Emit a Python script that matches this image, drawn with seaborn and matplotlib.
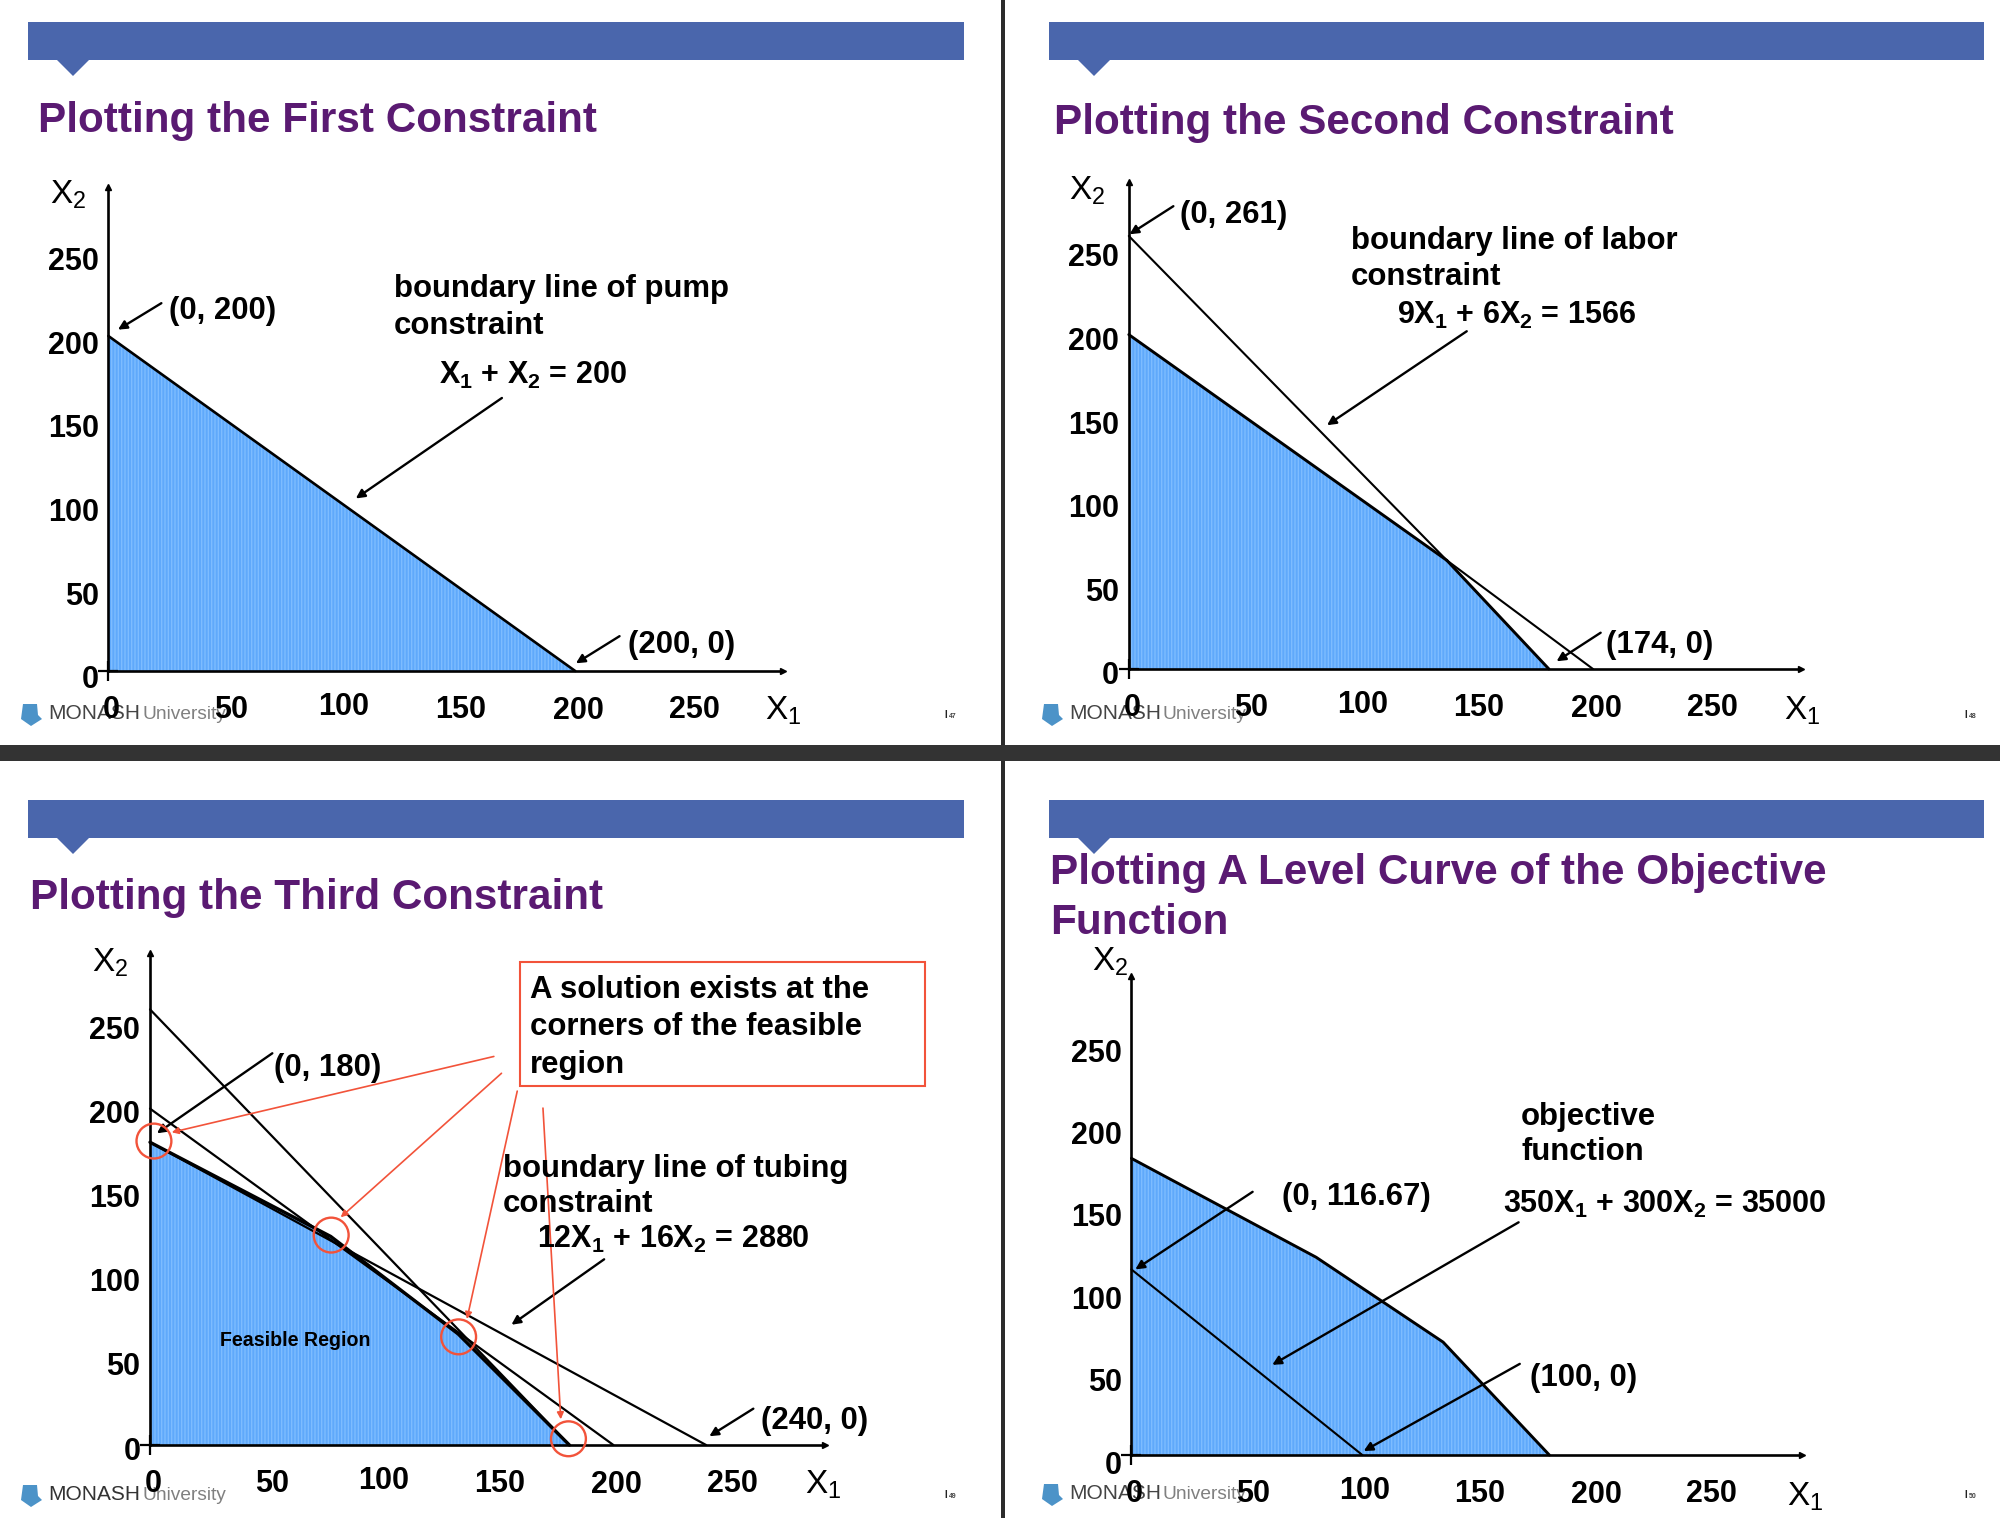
import matplotlib
matplotlib.use("Agg")
import matplotlib.pyplot as plt
import matplotlib.transforms as mtrans
from matplotlib.patches import Polygon, Rectangle
import seaborn as sns

sns.set_theme(style="white")
plt.rcParams["font.family"] = ["Liberation Sans", "DejaVu Sans"]
plt.rcParams["mathtext.fontset"] = "custom"
plt.rcParams["mathtext.rm"] = "Liberation Sans"
plt.rcParams["mathtext.bf"] = "Liberation Sans:bold"
plt.rcParams["mathtext.it"] = "Liberation Sans:italic"
plt.rcParams["hatch.linewidth"] = 1.0

W, H = 2000, 1518
BLUE_BAR, PURPLE, FILL, FILL_HATCH, RED = "#4A66AC", "#5A1A72", "#5FA9FB", "#7DBCFF", "#F2533A"
BODY = 22.4
FORMULA = 22
TICK_SIZE = 22
TITLE = 30.4

TICKS = [0, 50, 100, 150, 200, 250]
TICK_LABELS = ["0", "50", "100", "150", "200", "250"]

# boundary lines (x1, x2)
P1_PUMP_X = [0, 200];            P1_PUMP_Y = [200, 0]
P2_PUMP_X = [0, 137, 200];       P2_PUMP_Y = [200, 65, 0]
P2_LABOR_X = [0, 137, 181];      P2_LABOR_Y = [259, 65, 0]
P3_PUMP_X = [0, 200];            P3_PUMP_Y = [200, 0]
P3_LABOR_X = [0, 181];           P3_LABOR_Y = [259, 0]
P3_TUBING_X = [0, 240];          P3_TUBING_Y = [180, 0]
P4_LEVEL_X = [0, 100];           P4_LEVEL_Y = [112.6, 0]

# feasible regions
P1_REGION_X = [0, 0, 200];                P1_REGION_Y = [0, 200, 0]
P2_REGION_X = [0, 0, 137, 181];           P2_REGION_Y = [0, 200, 65, 0]
P3_REGION_X = [0, 0, 78, 133, 181];       P3_REGION_Y = [0, 180, 124, 66, 0]
P4_REGION_X = [0, 0, 80, 135, 181];       P4_REGION_Y = [0, 180, 120, 68.5, 0]

# corner circles on the third slide
CORNER_X = [1.7, 78.2, 133.2, 180.6]
CORNER_Y = [180.7, 124.8, 64.3, 3.7]

# annotation arrows: tail x, tail y, head x, head y
P1_ARROWS = [(22.7, 219.6, 4.1, 203.8), (168.6, 163, 106, 103), (219, 20.8, 200.3, 4.6)]
P2_ARROWS = [(19.2, 276.8, 0.3, 260), (145.6, 202, 85.4, 145.8), (203.3, 21.7, 184.3, 4.6)]
P3_ARROWS = [(52.8, 232.9, 3, 185.3), (196, 110.4, 156, 71.5), (260.4, 21.6, 241.4, 5.2)]
P3_RED_ARROWS = [(148.4, 231, 9.4, 185.9), (151.7, 221, 82.3, 135.4),
                 (158.5, 210.4, 136.8, 74.9), (169.6, 200.3, 177.3, 15.3)]
P4_ARROWS = [(52.5, 159.7, 1.7, 112.6), (167.7, 141.2, 61, 54.7), (168.2, 55.3, 100.6, 2.4)]

fig = plt.figure(figsize=(W / 100, H / 100), dpi=100, facecolor="white")


def fx(x):
    return x / W


def fy(y):
    return 1 - y / H


def put(x, y, s, size=BODY, weight="bold", color="black", z=3):
    fig.text(fx(x), fy(y), s, fontsize=size, fontweight=weight, color=color, zorder=z)


def chrome(x0, x1, ytop, tab0, title_lines, page, page_y, brand_y=None, brand_col="#444444"):
    ybot = ytop + 38
    fig.add_artist(Rectangle((fx(x0), fy(ybot)), (x1 - x0) / W, 38 / H,
                             transform=fig.transFigure, fc=BLUE_BAR, ec="none", zorder=-2))
    fig.add_artist(Polygon([(fx(tab0), fy(ybot)), (fx(tab0 + 32), fy(ybot)), (fx(tab0 + 16), fy(ybot + 16))],
                           closed=True, transform=fig.transFigure, fc=BLUE_BAR, ec="none", zorder=-2))
    for (tx, ty, s) in title_lines:
        put(tx, ty, s, size=TITLE, color=PURPLE)
    put(x1 - 20, page_y, "I", size=7, color="#222222")
    put(x1 - 15, page_y, page, size=5, color="#444444")
    lx = x0 - 5
    ly = brand_y
    fig.add_artist(Polygon([(fx(lx), fy(ly - 15)), (fx(lx + 14), fy(ly - 15)), (fx(lx + 15), fy(ly - 4)),
                            (fx(lx + 19), fy(ly)), (fx(lx + 8), fy(ly + 7)), (fx(lx - 2), fy(ly))],
                           closed=True, transform=fig.transFigure, fc="#4C93C8", ec="none", zorder=-1))
    put(x0 + 20, ly, "MONASH", size=15, weight="normal", color=brand_col, z=-1)
    put(x0 + 114, ly, "University", size=13.8, weight="normal", color="#808080", z=-1)


def panel(ox, oy, ux, uy, xmax, ymax, ylab_dy):
    ax = fig.add_axes([fx(ox), fy(oy), xmax * ux / W, ymax * uy / H], facecolor="none")
    ax.set_xlim(0, xmax)
    ax.set_ylim(0, ymax)
    sns.despine(ax=ax)
    for side in ("left", "bottom"):
        ax.spines[side].set_linewidth(1.9)
        ax.spines[side].set_color("black")
    ax.set_xticks(TICKS, TICK_LABELS)
    ax.set_yticks(TICKS, TICK_LABELS)
    ax.tick_params(axis="x", length=0, pad=17, labelsize=TICK_SIZE)
    ax.tick_params(axis="y", length=0, pad=7, labelsize=TICK_SIZE)
    for lab in ax.get_xticklabels() + ax.get_yticklabels():
        lab.set_fontweight("bold")
        lab.set_color("black")
    x_dx = [3, 6, 2, 2, 3, 3]
    x_dy = [0, 0, 3, 0, -1, 0]
    for lab, dx, dy in zip(ax.get_xticklabels(), x_dx, x_dy):
        lab.set_transform(lab.get_transform() + mtrans.ScaledTranslation(dx / 100, dy / 100, fig.dpi_scale_trans))
    for lab in ax.get_yticklabels():
        lab.set_transform(lab.get_transform() + mtrans.ScaledTranslation(0, -ylab_dy / 100, fig.dpi_scale_trans))
    ax.plot(1, 0, marker=">", color="black", ms=5, transform=ax.transAxes, clip_on=False)
    ax.plot(0, 1, marker="^", color="black", ms=5, transform=ax.transAxes, clip_on=False)
    ax.plot(0, 0, marker="+", color="black", ms=14, mew=1.6, clip_on=False)
    return ax


def region(ax, xs, ys):
    ax.fill(xs, ys, facecolor=FILL, edgecolor=FILL_HATCH, hatch="|||||", linewidth=0, zorder=1)


def line(ax, xs, ys, lw=1.6):
    sns.lineplot(x=xs, y=ys, ax=ax, color="black", linewidth=lw, sort=False, estimator=None,
                 legend=False, zorder=3, clip_on=False)


def arrows(ax, items, color="black", lw=1.7, ms=13):
    for (tx, ty, hx, hy) in items:
        ax.annotate("", xy=(hx, hy), xytext=(tx, ty), zorder=5,
                    arrowprops=dict(arrowstyle="-|>", color=color, lw=lw, mutation_scale=ms,
                                    shrinkA=0, shrinkB=0))


fig.add_artist(Rectangle((fx(1001), fy(1518)), 4 / W, 1, transform=fig.transFigure,
                         fc="#2b2b2b", ec="none", zorder=-3))
fig.add_artist(Rectangle((0, fy(761)), 1, 16 / H, transform=fig.transFigure,
                         fc="#333333", ec="none", zorder=-3))

# ---- slide 1
chrome(28, 964, 22, 57, [(38, 132, "Plotting the First Constraint")], "47", 718, brand_y=719)
ax = panel(108.4, 671, 2.334, 1.675, 289, 289, 6)
region(ax, P1_REGION_X, P1_REGION_Y)
line(ax, P1_PUMP_X, P1_PUMP_Y, 1.9)
arrows(ax, P1_ARROWS)
put(169, 319, "(0, 200)")
put(394, 297.5, "boundary line of pump")
put(394, 333.5, "constraint")
put(439, 383.5, r"$\mathbf{X_1}$ + $\mathbf{X_2}$ = 200", size=FORMULA)
put(628, 652.5, "(200, 0)")
put(50, 203.6, r"$\mathrm{X_2}$", size=24, weight="normal")
put(765, 720, r"$\mathrm{X_1}$", size=24, weight="normal")

# ---- slide 2
chrome(1049, 1984, 22, 1078, [(1054.5, 134, "Plotting the Second Constraint")], "48", 718, brand_y=719)
ax = panel(1128.8, 669, 2.321, 1.672, 289.5, 291, 4)
region(ax, P2_REGION_X, P2_REGION_Y)
line(ax, P2_PUMP_X[:2], P2_PUMP_Y[:2], 2.1)
line(ax, P2_PUMP_X[1:], P2_PUMP_Y[1:], 1.5)
line(ax, P2_LABOR_X[:2], P2_LABOR_Y[:2], 1.5)
line(ax, P2_LABOR_X[1:], P2_LABOR_Y[1:], 2.1)
arrows(ax, P2_ARROWS)
put(1180, 223, "(0, 261)")
put(1351, 248.5, "boundary line of labor")
put(1351, 285, "constraint")
put(1397, 323.5, r"$\mathbf{9X_1}$ + $\mathbf{6X_2}$ = 1566", size=FORMULA)
put(1606, 652.5, "(174, 0)")
put(1069, 200, r"$\mathrm{X_2}$", size=24, weight="normal")
put(1784, 720, r"$\mathrm{X_1}$", size=24, weight="normal")

# ---- slide 3
chrome(28, 964, 800, 57, [(29.6, 909, "Plotting the Third Constraint")], "49", 1498, brand_y=1500, brand_col="#333333")
ax = panel(150, 1445, 2.317, 1.682, 291.5, 292.5, 3)
region(ax, P3_REGION_X, P3_REGION_Y)
line(ax, P3_PUMP_X, P3_PUMP_Y, 1.6)
line(ax, P3_LABOR_X, P3_LABOR_Y, 1.6)
line(ax, P3_TUBING_X, P3_TUBING_Y, 1.6)
line(ax, P3_REGION_X[1:], P3_REGION_Y[1:], 2.4)
arrows(ax, P3_ARROWS)
arrows(ax, P3_RED_ARROWS, color=RED, lw=1.2, ms=10)
sns.scatterplot(x=CORNER_X, y=CORNER_Y, ax=ax, s=630, facecolor="none", edgecolor=RED,
                linewidth=1.7, zorder=6, clip_on=False, legend=False)
fig.add_artist(Rectangle((fx(520), fy(1086)), 405 / W, 124 / H, transform=fig.transFigure,
                         fc="none", ec=RED, lw=1.5, zorder=2))
put(530, 998.5, "A solution exists at the")
put(530, 1035, "corners of the feasible")
put(530, 1072.5, "region")
put(274, 1076, "(0, 180)")
put(503, 1176.5, "boundary line of tubing")
put(503, 1212.5, "constraint")
put(537, 1247.5, r"$\mathbf{12X_1}$ + $\mathbf{16X_2}$ = 2880", size=FORMULA)
put(761, 1429, "(240, 0)")
put(220, 1346, "Feasible Region", size=14.1)
put(91.5, 972, r"$\mathrm{X_2}$", size=24, weight="normal")
put(805, 1494, r"$\mathrm{X_1}$", size=24, weight="normal")

# ---- slide 4
chrome(1049, 1984, 800, 1078,
       [(1050, 883.6, "Plotting A Level Curve of the Objective"), (1050, 934, "Function")],
       "50", 1498, brand_y=1499)
ax = panel(1131.4, 1455, 2.309, 1.648, 290.5, 290.5, 7)
region(ax, P4_REGION_X, P4_REGION_Y)
line(ax, P4_REGION_X[1:], P4_REGION_Y[1:], 2.1)
line(ax, P4_LEVEL_X, P4_LEVEL_Y, 1.5)
arrows(ax, P4_ARROWS)
put(1521, 1125, "objective")
put(1521, 1160, "function")
put(1281.5, 1204.5, "(0, 116.67)")
put(1503, 1212.5, r"$\mathbf{350X_1}$ + $\mathbf{300X_2}$ = 35000", size=FORMULA)
put(1530, 1386, "(100, 0)")
put(1092, 971, r"$\mathrm{X_2}$", size=24, weight="normal")
put(1787, 1506, r"$\mathrm{X_1}$", size=24, weight="normal")

fig.savefig("out.png", dpi=100)
